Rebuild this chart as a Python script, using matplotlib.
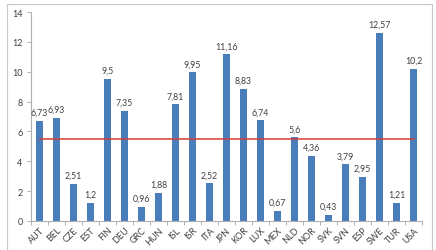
import matplotlib

matplotlib.use("Agg")
import matplotlib.pyplot as plt
from matplotlib.patches import Rectangle
from matplotlib.transforms import ScaledTranslation

countries = ["AUT", "BEL", "CZE", "EST", "FIN", "DEU", "GRC", "HUN", "ISL", "ISR",
             "ITA", "JPN", "KOR", "LUX", "MEX", "NLD", "NOR", "SVK", "SVN", "ESP",
             "SWE", "TUR", "USA"]
values = [6.73, 6.93, 2.51, 1.2, 9.5, 7.35, 0.96, 1.88, 7.81, 9.95,
          2.52, 11.16, 8.83, 6.74, 0.67, 5.6, 4.36, 0.43, 3.79, 2.95,
          12.57, 1.21, 10.2]
average = 5.47
yticks = [0, 2, 4, 6, 8, 10, 12, 14]

BLUE = "#4a7ebb"
RED = "#d43d3a"
GREY = "#404040"
AXIS = "#b0b0b0"

plt.rcParams["font.family"] = ["Lato", "DejaVu Sans"]

fig = plt.figure(figsize=(4.36, 2.51), dpi=100)
ax = fig.add_axes([31 / 436, 1 - 222 / 251, 391 / 436, 209 / 251])

# chart frame
fig.patches.append(Rectangle((7 / 436, 0.0), 425 / 436, 1 - 5 / 251,
                             transform=fig.transFigure, fill=False,
                             edgecolor="#c8c8c8", lw=0.8))

x = list(range(len(countries)))
ax.bar(x, values, width=0.41, color=BLUE, zorder=2)
ax.plot([x[0], x[-1]], [average, average], color=RED, lw=1.1, zorder=3)

for xi, v in zip(x, values):
    ax.annotate(f"{v:g}".replace(".", ","), (xi, v), xytext=(0, 3),
                textcoords="offset points", ha="center", va="bottom",
                fontsize=6.3, color=GREY)

ax.set_xlim(-0.5, len(countries) - 0.5)
ax.set_ylim(0, 14)
ax.set_yticks(yticks)
ax.set_yticklabels([str(t) for t in yticks], fontsize=6.5, color=GREY)
ax.set_xticks(x)
ax.set_xticklabels(countries, rotation=45, ha="right", rotation_mode="anchor",
                   fontsize=6.5, color=GREY)
shift = ScaledTranslation(2 / 100, 0, fig.dpi_scale_trans)
for lbl in ax.get_xticklabels():
    lbl.set_transform(lbl.get_transform() + shift)
ax.tick_params(axis="x", length=0, pad=3)
ax.set_xticks([i - 0.5 for i in range(len(countries) + 1)], minor=True)
ax.tick_params(axis="x", which="minor", length=3, color=AXIS, width=0.7)
ax.tick_params(axis="y", length=3, color=AXIS, width=0.7, pad=3)

for side in ("top", "right"):
    ax.spines[side].set_visible(False)
for side in ("left", "bottom"):
    ax.spines[side].set_color(AXIS)
    ax.spines[side].set_linewidth(0.8)

fig.savefig("out.png", dpi=100)
